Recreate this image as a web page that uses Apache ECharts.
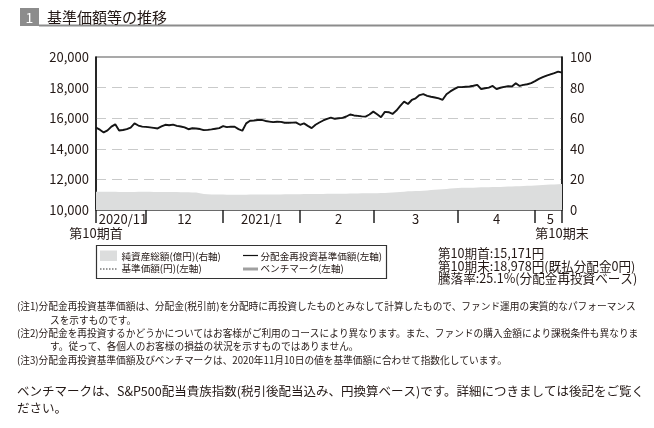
<!DOCTYPE html>
<html><head><meta charset="utf-8">
<script src="https://cdn.jsdelivr.net/npm/echarts@6/dist/echarts.min.js"></script>
<style>html,body{margin:0;padding:0;background:#fff}#c{width:654px;height:428px}</style>
</head><body><div id="c"></div>
<script>
// ---- data ----
const monthLabels = ['2020/11', '12', '2021/1', '2', '3', '4', '5'];
const monthStartIdx = [0, 13, 33, 53, 72, 94, 114];
const endLabels = ['第10期首', '第10期末'];

// 分配金再投資基準価額 (円, 左軸)
const navReinvested = [
  15380,15250,15070,15200,15450,15600,15200,15230,15290,15390,
  15660,15520,15450,15430,15400,15370,15330,15460,15570,15540,
  15580,15500,15460,15400,15280,15340,15330,15290,15220,15240,
  15270,15310,15350,15480,15420,15450,15440,15290,15180,15660,
  15830,15850,15880,15890,15820,15780,15740,15770,15760,15700,
  15700,15710,15715,15570,15660,15500,15350,15570,15720,15850,
  15960,16040,15960,16000,16020,16110,16240,16180,16150,16120,
  16105,16240,16430,16260,16065,16410,16390,16280,16500,16800,
  17080,16930,17190,17300,17510,17570,17460,17400,17350,17300,
  17200,17570,17750,17900,18030,18030,18060,18070,18120,18175,
  17900,17960,18000,18110,17900,17990,18050,18090,18070,18290,
  18110,18180,18220,18290,18420,18570,18680,18780,18870,18950,
  19040,18978
];
// 基準価額 (円, 左軸): no distributions paid, identical to the reinvested value
const basePrice = navReinvested;

// 純資産総額 (億円, 右軸)
const netAssets = [
  12.0,12.0,11.9,11.9,11.9,11.9,11.8,11.8,11.8,11.8,11.8,11.9,11.9,11.9,
  11.9,11.8,11.8,11.8,11.7,11.7,11.7,11.7,11.6,11.6,11.6,11.5,11.4,11.0,
  10.5,10.3,10.2,10.2,10.1,10.1,10.0,10.0,10.0,10.0,9.9,10.0,10.1,
  10.1,10.1,10.1,10.1,10.1,10.2,10.2,10.2,10.3,10.3,10.3,10.3,10.3,10.4,10.4,10.4,10.4,10.5,10.5,10.6,
  10.6,10.6,10.7,10.7,10.7,10.8,10.8,10.8,10.9,10.9,10.9,11.0,11.0,11.1,11.1,11.2,
  11.4,11.6,11.8,12.0,12.2,12.3,12.4,12.5,12.6,12.8,13.0,13.2,13.4,13.6,13.8,14.0,14.2,
  14.4,14.5,14.5,14.6,14.6,14.7,14.8,14.8,14.9,15.0,15.0,15.1,15.2,15.3,15.4,15.5,15.6,15.7,15.8,15.9,
  16.0,16.2,16.4,16.5,16.6,16.7,16.9,17.0
];

// ---- derived ----
const lastIdx = navReinvested.length - 1;
const categories = navReinvested.map((_, i) => {
  const m = monthStartIdx.filter(s => s <= i).length - 1;
  return monthLabels[m] + '#' + (i - monthStartIdx[m] + 1);
});
const tickIdx = new Set(monthStartIdx.concat([lastIdx]));
const labelAt = {};
monthStartIdx.forEach((s, m) => {
  const e = m + 1 < monthStartIdx.length ? monthStartIdx[m + 1] : lastIdx;
  labelAt[Math.round((s + e) / 2)] = monthLabels[m];
});

const FONT = '"Noto Sans CJK JP", "Noto Sans", sans-serif';
const TXT = '#231815';

function t(text, x, y, size, opts) {
  return {
    type: 'text', silent: true,
    style: Object.assign({ text: text, x: x, y: y, fontSize: size, fontFamily: FONT, fill: TXT, verticalAlign: 'middle', align: 'left' }, opts || {})
  };
}

const chart = echarts.init(document.getElementById('c'), null, { renderer: 'canvas' });
chart.setOption({
  animation: false,
  backgroundColor: '#fff',
  grid: { left: 96, top: 57, width: 466, height: 153, show: true, borderColor: '#555', borderWidth: 1.2, backgroundColor: 'transparent' },
  xAxis: [{
    type: 'category', data: categories, boundaryGap: false,
    axisLine: { show: true, lineStyle: { color: '#555', width: 1.5 } },
    axisTick: { show: true, length: 13, inside: false, interval: (i) => tickIdx.has(i), lineStyle: { color: '#222', width: 1.5 } },
    axisLabel: { interval: (i) => labelAt[i] !== undefined, formatter: (v, i) => labelAt[i] || '', margin: 3, fontSize: 13, fontFamily: FONT, color: TXT },
    splitLine: { show: false }
  }, {
    type: 'category', data: categories, boundaryGap: false, position: 'bottom',
    axisLine: { show: false }, axisTick: { show: false },
    axisLabel: { interval: (i) => i === 0 || i === lastIdx, formatter: (v, i) => i === 0 ? endLabels[0] : endLabels[1], margin: 17, fontSize: 13, fontFamily: FONT, color: TXT },
    splitLine: { show: false }
  }],
  yAxis: [{
    type: 'value', position: 'left', min: 10000, max: 20000, interval: 2000,
    axisLine: { show: true, lineStyle: { color: '#000', width: 1.5 } },
    axisTick: { show: false },
    axisLabel: { margin: 7, fontSize: 13, fontFamily: FONT, color: TXT, formatter: v => v.toLocaleString('en-US') },
    splitLine: { show: true, showMinLine: false, showMaxLine: false, lineStyle: { color: '#c9caca', type: [10, 6], width: 1.2 } }
  }, {
    type: 'value', position: 'right', min: 0, max: 100, interval: 20,
    axisLine: { show: true, lineStyle: { color: '#000', width: 1.5 } },
    axisTick: { show: false },
    axisLabel: { margin: 8, fontSize: 13, fontFamily: FONT, color: TXT },
    splitLine: { show: false }
  }],
  series: [{
    name: '純資産総額(億円)(右軸)', type: 'line', yAxisIndex: 1, data: netAssets,
    symbol: 'none', lineStyle: { width: 0 }, areaStyle: { color: '#dcdddd', opacity: 1 }, z: 1
  }, {
    name: '基準価額(円)(左軸)', type: 'line', yAxisIndex: 0, data: basePrice,
    symbol: 'none', lineStyle: { width: 1, type: 'dotted', color: '#333' }, z: 2
  }, {
    name: '分配金再投資基準価額(左軸)', type: 'line', yAxisIndex: 0, data: navReinvested,
    symbol: 'none', lineStyle: { width: 1.9, color: '#151515' }, z: 3
  }],
  graphic: [
    { type: 'rect', silent: true, shape: { x: 20, y: 8, width: 19, height: 18 }, style: { fill: '#8c8c8c' } },
    t('1', 29.5, 17.5, 14, { fill: '#fff', align: 'center' }),
    { type: 'rect', silent: true, shape: { x: 39, y: 24.5, width: 615, height: 2 }, style: { fill: '#8c8c8c' } },
    t('基準価額等の推移', 47, 17, 15),

    { type: 'rect', silent: true, shape: { x: 96.5, y: 245.5, width: 290, height: 33 }, style: { fill: 'none', stroke: '#333', lineWidth: 1.2 } },
    { type: 'rect', silent: true, shape: { x: 100, y: 250.5, width: 17, height: 10.5 }, style: { fill: '#dcdddd' } },
    t('純資産総額(億円)(右軸)', 121.5, 256, 9.6),
    { type: 'line', silent: true, shape: { x1: 100, y1: 269, x2: 118, y2: 269 }, style: { stroke: '#333', lineWidth: 1, lineDash: [1.5, 1.5] } },
    t('基準価額(円)(左軸)', 121.5, 268.5, 9.6),
    { type: 'line', silent: true, shape: { x1: 243, y1: 255.5, x2: 258, y2: 255.5 }, style: { stroke: '#111', lineWidth: 1.2 } },
    t('分配金再投資基準価額(左軸)', 260.5, 256, 9.6),
    { type: 'line', silent: true, shape: { x1: 243, y1: 269, x2: 258, y2: 269 }, style: { stroke: '#a0a0a0', lineWidth: 3 } },
    t('ベンチマーク(左軸)', 260.5, 268.5, 9.6),

    t('第10期首:15,171円', 438, 253, 12.6),
    t('第10期末:18,978円(既払分配金0円)', 438, 265.8, 12.6),
    t('騰落率:25.1%(分配金再投資ベース)', 438, 278.7, 12.6),

    t('(注1)分配金再投資基準価額は、分配金(税引前)を分配時に再投資したものとみなして計算したもので、ファンド運用の実質的なパフォーマンス', 17, 306.7, 9.7),
    t('スを示すものです。', 50, 320, 9.7),
    t('(注2)分配金を再投資するかどうかについてはお客様がご利用のコースにより異なります。また、ファンドの購入金額により課税条件も異なりま', 17, 333.3, 9.7),
    t('す。従って、各個人のお客様の損益の状況を示すものではありません。', 50, 346.7, 9.7),
    t('(注3)分配金再投資基準価額及びベンチマークは、2020年11月10日の値を基準価額に合わせて指数化しています。', 17, 360, 9.7),
    t('ベンチマークは、S&P500配当貴族指数(税引後配当込み、円換算ベース)です。詳細につきましては後記をご覧く', 17, 391.5, 12.5),
    t('ださい。', 17, 408, 12.5)
  ]
});
</script>
</body></html>
